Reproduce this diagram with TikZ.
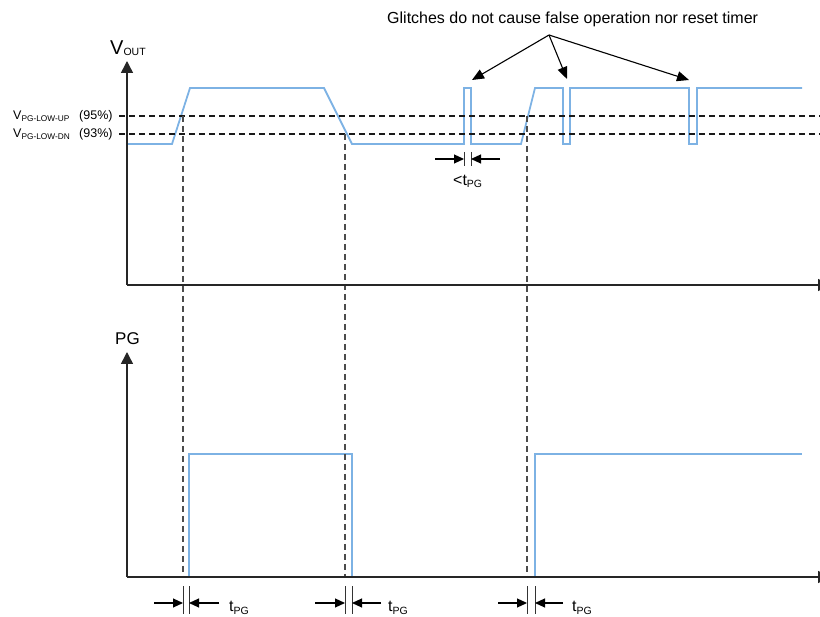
\documentclass[tikz,border=0pt]{standalone}
\usepackage{fontspec}
\setmainfont{Liberation Sans}
\usetikzlibrary{arrows.meta}
\definecolor{wave}{RGB}{125,178,228}
\newcommand{\fs}[1]{\fontsize{#1}{#1}\selectfont}
\begin{document}
\begin{tikzpicture}[x=1pt,y=-1pt,
  axis/.style={line width=1.5pt,black!85,-{Triangle[length=12pt,width=12pt]}},
  level/.style={line width=1.1pt,black!90,dash pattern=on 6pt off 4pt},
  vdash/.style={line width=1.1pt,black!70,dash pattern=on 6pt off 4pt},
  wv/.style={line width=1.8pt,wave},
  tick/.style={line width=1pt,black!80},
  marker/.style={line width=1.1pt,black,-{Triangle[length=10pt,width=9pt]}},
  note/.style={line width=1.1pt,black,-{Triangle[length=12pt,width=10pt]}},
  lbl/.style={inner sep=0pt,anchor=base west}]
\useasboundingbox (0,0) rectangle (820,617);

% ---------- waveforms (under axes) ----------
\draw[wv] (127,144) -- (172,144) -- (190,88) -- (324,88) -- (352,144) -- (464,144)
  -- (464,88) -- (471,88) -- (471,144) -- (521,144) -- (535,88) -- (563,88)
  -- (563,144) -- (570,144) -- (570,88) -- (689,88) -- (689,144) -- (697,144)
  -- (697,88) -- (802,88);
\draw[wv] (189,577) -- (189,454) -- (352,454) -- (352,577);
\draw[wv] (535,577) -- (535,454) -- (802,454);

% ---------- threshold levels ----------
\coordinate (l1a) at (119,116); \coordinate (l1b) at (820,116);
\coordinate (l2a) at (119,134); \coordinate (l2b) at (820,134);
\draw[level] (l1a) -- (l1b);
\draw[level] (l2a) -- (l2b);

% ---------- vertical dashed timing lines ----------
\coordinate (d1t) at (183,116); \coordinate (d1b) at (183,577);
\coordinate (d2t) at (345,134); \coordinate (d2b) at (345,577);
\coordinate (d3t) at (527,116); \coordinate (d3b) at (527,577);
\draw[vdash] (d1t) -- (d1b);
\draw[vdash] (d2t) -- (d2b);
\draw[vdash] (d3t) -- (d3b);

% ---------- axes ----------
\coordinate (o1) at (127,285); \coordinate (y1) at (127,61); \coordinate (x1) at (830,285);
\coordinate (o2) at (127,577); \coordinate (y2) at (127,352); \coordinate (x2) at (830,577);
\draw[axis] (o1) -- (y1);
\draw[axis] (o1) -- (x1);
\draw[axis] (o2) -- (y2);
\draw[axis] (o2) -- (x2);

% ---------- axis labels ----------
\node[lbl] (vout) at (110,55) {\fs{20}V\raisebox{-1pt}{\fs{10.5}OUT}};
\node[lbl] (pg) at (115,345) {\fs{17}PG};
\node[lbl] (vup) at (13,120) {\fs{12.5}V\raisebox{-1.5pt}{\fs{8.3}PG-LOW-UP}};
\node[lbl] (p95) at (79,120) {\fs{12.5}(95\%)};
\node[lbl] (vdn) at (13,138) {\fs{12.5}V\raisebox{-1.5pt}{\fs{8.3}PG-LOW-DN}};
\node[lbl] (p93) at (79,138) {\fs{12.5}(93\%)};

% ---------- glitch note ----------
\node[lbl] (note) at (387,24) {\fs{16}Glitches do not cause false operation nor reset timer};
\coordinate (n0) at (549,35);
\coordinate (g1) at (472,80); \coordinate (g2) at (567,79); \coordinate (g3) at (689,80);
\draw[note] (n0) -- (g1);
\draw[note] (n0) -- (g2);
\draw[note] (n0) -- (g3);

% ---------- glitch width marker ----------
\coordinate (ga) at (464,152); \coordinate (gb) at (464,166);
\coordinate (gc) at (471,152); \coordinate (gd) at (471,166);
\draw[tick] (ga) -- (gb);
\draw[tick] (gc) -- (gd);
\coordinate (gl) at (435,159); \coordinate (gli) at (464,159);
\coordinate (gr) at (500,159); \coordinate (gri) at (471,159);
\draw[marker] (gl) -- (gli);
\draw[marker] (gr) -- (gri);
\node[lbl] (ltpg) at (453,186) {\fs{16}<t\raisebox{-2pt}{\fs{10.5}PG}};

% ---------- tPG markers ----------
\foreach \a/\b/\l/\r/\t/\n in {183/189/154/219/229/A, 345/352/315/381/388/B, 527/535/498/563/572/C}{
  \coordinate (ta\n) at (\a,586); \coordinate (tb\n) at (\a,614);
  \coordinate (tc\n) at (\b,586); \coordinate (td\n) at (\b,614);
  \draw[tick] (ta\n) -- (tb\n);
  \draw[tick] (tc\n) -- (td\n);
  \coordinate (ml\n) at (\l,603); \coordinate (mli\n) at (\a,603);
  \coordinate (mr\n) at (\r,603); \coordinate (mri\n) at (\b,603);
  \draw[marker] (ml\n) -- (mli\n);
  \draw[marker] (mr\n) -- (mri\n);
  \node[lbl] (t\n) at (\t,612) {\fs{16}t\raisebox{-2pt}{\fs{10.5}PG}};
}
\end{tikzpicture}
\end{document}
